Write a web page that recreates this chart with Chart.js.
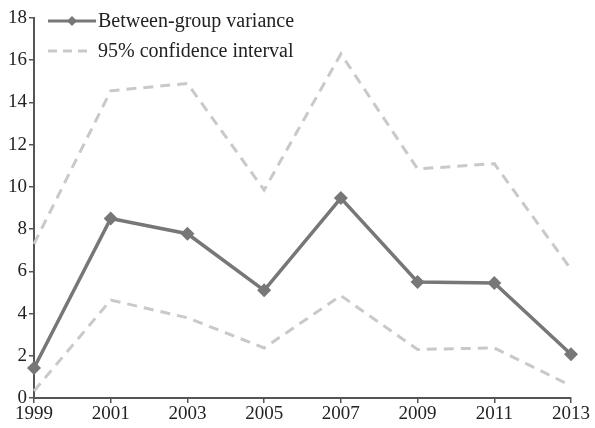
<!DOCTYPE html>
<html lang="en">
<head>
    <meta charset="UTF-8">
    <title>Between-group variance</title>
    <script src="https://cdn.jsdelivr.net/npm/chart.js"></script>
    <style>
        html, body {
            margin: 0;
            padding: 0;
            background: #fff;
        }
        #wrap {
            width: 595px;
            height: 428px;
        }
    </style>
</head>
<body>
    <div id="wrap"><canvas id="varChart"></canvas></div>

    <script>
        // Data
        const years = ['1999', '2001', '2003', '2005', '2007', '2009', '2011', '2013'];
        const variance = [1.42, 8.5, 7.78, 5.1, 9.47, 5.5, 5.45, 2.07];
        const ciUpper = [7.3, 14.55, 14.9, 9.85, 16.3, 10.85, 11.1, 6.1];
        const ciLower = [0.33, 4.64, 3.8, 2.37, 4.85, 2.3, 2.37, 0.58];
        const yTicks = [0, 2, 4, 6, 8, 10, 12, 14, 16, 18];

        const serif = '"Liberation Serif", "DejaVu Serif", serif';
        const axisColor = '#555';
        const mainColor = '#777';
        const ciColor = '#c9c9c9';

        // small legend drawn inside the plot, top-left
        const insideLegend = {
            id: 'insideLegend',
            afterDraw(chart) {
                const ctx = chart.ctx;
                const area = chart.chartArea;
                const x0 = area.left + 14, x1 = area.left + 62;
                const rows = [
                    { y: area.top + 3, label: chart.data.datasets[0].label, main: true },
                    { y: area.top + 33, label: chart.data.datasets[1].label, main: false }
                ];
                ctx.save();
                rows.forEach(r => {
                    ctx.beginPath();
                    ctx.lineWidth = 3;
                    if (r.main) {
                        ctx.strokeStyle = mainColor;
                        ctx.setLineDash([]);
                    } else {
                        ctx.strokeStyle = ciColor;
                        ctx.setLineDash([9, 6]);
                    }
                    ctx.moveTo(x0, r.y);
                    ctx.lineTo(r.main ? x1 : x1 - 8, r.y);
                    ctx.stroke();
                    ctx.setLineDash([]);
                    if (r.main) {
                        const cx = (x0 + x1) / 2, s = 5;
                        ctx.fillStyle = mainColor;
                        ctx.beginPath();
                        ctx.moveTo(cx, r.y - s);
                        ctx.lineTo(cx + s, r.y);
                        ctx.lineTo(cx, r.y + s);
                        ctx.lineTo(cx - s, r.y);
                        ctx.closePath();
                        ctx.fill();
                    }
                    ctx.fillStyle = '#222';
                    ctx.font = '20px ' + serif;
                    ctx.textBaseline = 'middle';
                    ctx.fillText(r.label, x1 + 2, r.y + 1);
                });
                ctx.restore();
            }
        };

        const ctx = document.getElementById('varChart').getContext('2d');
        new Chart(ctx, {
            type: 'line',
            data: {
                labels: years,
                datasets: [
                    {
                        label: 'Between-group variance',
                        data: variance,
                        borderColor: mainColor,
                        backgroundColor: mainColor,
                        borderWidth: 3.5,
                        pointStyle: 'rectRot',
                        pointRadius: 7,
                        pointBorderWidth: 0,
                        tension: 0
                    },
                    {
                        label: '95% confidence interval',
                        data: ciUpper,
                        borderColor: ciColor,
                        borderWidth: 3,
                        borderDash: [10, 7],
                        pointRadius: 0,
                        tension: 0
                    },
                    {
                        label: '95% confidence interval (lower)',
                        data: ciLower,
                        borderColor: ciColor,
                        borderWidth: 3,
                        borderDash: [10, 7],
                        pointRadius: 0,
                        tension: 0
                    }
                ]
            },
            options: {
                responsive: true,
                maintainAspectRatio: false,
                animation: false,
                layout: { padding: { top: 18, right: 24, left: 0, bottom: 0 } },
                plugins: {
                    legend: { display: false },
                    tooltip: { enabled: false }
                },
                scales: {
                    x: {
                        offset: false,
                        grid: {
                            drawOnChartArea: false,
                            color: axisColor,
                            tickLength: 5,
                            lineWidth: 1.5
                        },
                        border: { color: axisColor, width: 2 },
                        ticks: {
                            color: '#222',
                            font: { family: serif, size: 19 },
                            padding: 0,
                            maxRotation: 0,
                            autoSkip: false
                        },
                        afterFit(scale) { scale.height = 30; }
                    },
                    y: {
                        min: 0,
                        max: 18,
                        afterBuildTicks(scale) {
                            scale.ticks = yTicks.map(v => ({ value: v }));
                        },
                        grid: {
                            drawOnChartArea: false,
                            color: axisColor,
                            tickLength: 5,
                            lineWidth: 1.5
                        },
                        border: { color: axisColor, width: 2 },
                        ticks: {
                            color: '#222',
                            font: { family: serif, size: 19 },
                            padding: 2
                        },
                        afterFit(scale) { scale.width = 34; }
                    }
                }
            },
            plugins: [insideLegend]
        });
    </script>
</body>
</html>
